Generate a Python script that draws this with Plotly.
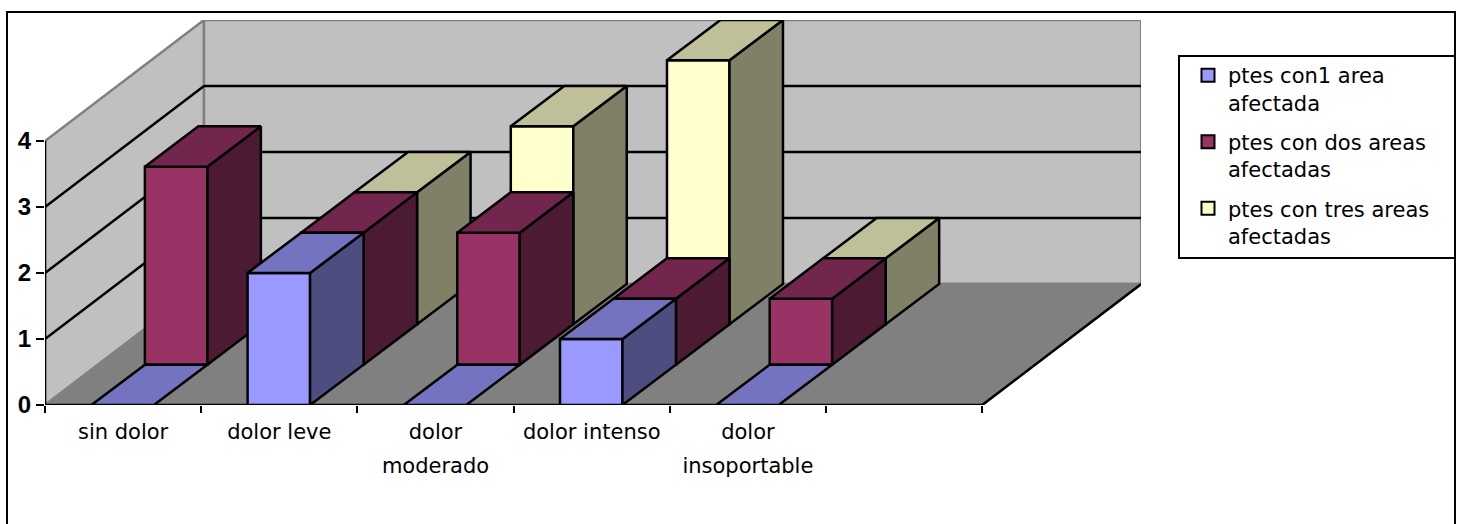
import plotly.graph_objects as go

categories = ["sin dolor", "dolor leve", "dolor<br>moderado", "dolor intenso", "dolor<br>insoportable", " "]
series_names = ["ptes con1 area<br>afectada", "ptes con dos areas<br>afectadas", "ptes con tres areas<br>afectadas"]
s1 = [0, 2, 0, 1, 0]
s2 = [3, 2, 2, 1, 1]
s3 = [None, 2, 3, 4, 1]
series_values = [s1, s2, s3]
value_ticks = [0, 1, 2, 3, 4]

front_cols = ["#9999FF", "#993366", "#FFFFCC"]
top_cols = ["#7373BF", "#73264D", "#BFBF99"]
side_cols = ["#4D4D80", "#4D1A33", "#808066"]

W, H = 1464, 524
L, R, T, B = 45, 1141, 20, 405
CW, UH = 156.2, 66.0
DX, DY = 159 / CW, 121 / UH      # oblique depth offset in axis units
BAR_DX = 160.5 / CW
N = len(categories)
VMAX = value_ticks[-1]
BAR_L, BAR_W = 0.297, 0.4
LW = 2.5


def pr(c, v, d, dx=DX):
    return c + d * dx, v + d * DY


fig = go.Figure()


def poly(pts, fill, line="#000000", lw=LW, dx=DX):
    xs, ys = zip(*[pr(*p, dx=dx) for p in pts + [pts[0]]])
    fig.add_trace(go.Scatter(x=xs, y=ys, mode="lines", fill="toself", fillcolor=fill,
                             line=dict(color=line, width=lw, shape="linear"),
                             showlegend=False, hoverinfo="skip", cliponaxis=False))


def seg(a, b, col="#000000", lw=LW):
    xs, ys = zip(pr(*a), pr(*b))
    fig.add_trace(go.Scatter(x=xs, y=ys, mode="lines", line=dict(color=col, width=lw),
                             showlegend=False, hoverinfo="skip", cliponaxis=False))


WALL_GREY, EDGE = "#C0C0C0", "#808080"
poly([(0, 0, 0), (0, 0, 1), (0, VMAX, 1), (0, VMAX, 0)], WALL_GREY, EDGE)
poly([(0, 0, 1), (N, 0, 1), (N, VMAX, 1), (0, VMAX, 1)], WALL_GREY, EDGE)
poly([(0, 0, 0), (N, 0, 0), (N, 0, 1), (0, 0, 1)], "#808080", EDGE)
seg((N, 0, 0), (N, 0, 1))
for v in value_ticks[1:-1]:
    seg((0, v, 0), (0, v, 1))
    seg((0, v, 1), (N, v, 1))
seg((0, 0, 0), (0, VMAX, 0))
seg((0, 0, 0), (N, 0, 0))

for r in [2, 1, 0]:
    d0, d1 = r / 3, (r + 1) / 3
    for c, v in enumerate(series_values[r]):
        if v is None:
            continue
        a, b = c + BAR_L, c + BAR_L + BAR_W
        if v > 0:
            poly([(a, 0, d0), (b, 0, d0), (b, v, d0), (a, v, d0)], front_cols[r], dx=BAR_DX)
            poly([(b, 0, d0), (b, 0, d1), (b, v, d1), (b, v, d0)], side_cols[r], dx=BAR_DX)
        poly([(a, v, d0), (b, v, d0), (b, v, d1), (a, v, d1)], top_cols[r], dx=BAR_DX)

for name, col in zip(series_names, front_cols):
    fig.add_trace(go.Scatter(x=[None], y=[None], mode="markers", name=name, legendgroup=name,
                             marker=dict(symbol="square", size=13, color=col,
                                         line=dict(color="#000000", width=2))))

FONT = "DejaVu Sans, Liberation Sans, sans-serif"
px = lambda x: (x - L) / (R - L)
py = lambda y: (B - y) / (B - T)
TXT = '<span style="font-size:21px">%s</span>'
tick_text = ["<br>".join(TXT % part for part in c.split("<br>")) for c in categories]
fig.update_layout(
    width=W, height=H, autosize=False,
    margin=dict(l=L, r=W - R, t=T, b=H - B, pad=0),
    paper_bgcolor="#FFFFFF", plot_bgcolor="rgba(0,0,0,0)",
    font=dict(family=FONT, size=21, color="#000000"),
    xaxis=dict(range=[0, (R - L) / CW], showgrid=False, zeroline=False, showline=False,
               tickmode="array", tickvals=[i + 0.5 for i in range(N)], ticktext=tick_text,
               tickfont=dict(family=FONT, size=26),
               ticks="", ticklabelstandoff=7, tickangle=0,
               minor=dict(tickmode="array", tickvals=list(range(N + 1)), ticks="outside",
                          ticklen=7, tickwidth=2, tickcolor="#000000", showgrid=False)),
    yaxis=dict(range=[0, (B - T) / UH], showgrid=False, zeroline=False, showline=False,
               tickmode="array", tickvals=value_ticks, ticks="outside", ticklen=8, tickwidth=2,
               tickcolor="#000000", tickfont=dict(family="Liberation Sans, Arial, sans-serif", size=24, weight="bold")),
    legend=dict(x=px(1181), y=py(55), xanchor="left", yanchor="top", bgcolor="rgba(0,0,0,0)",
                borderwidth=0, traceorder="grouped", tracegroupgap=9,
                font=dict(family=FONT, size=21), indentation=7, itemclick=False, valign="top"),
    shapes=[dict(type="rect", xref="paper", yref="paper", x0=px(7), x1=px(1455), y0=py(540), y1=py(12),
                 line=dict(color="#000000", width=2), fillcolor="rgba(0,0,0,0)", layer="below"),
            dict(type="rect", xref="paper", yref="paper", x0=px(1179), x1=px(1455), y0=py(258), y1=py(56),
                 line=dict(color="#000000", width=2), fillcolor="#FFFFFF", layer="above")],
)
fig.write_html("out.html", config=dict(displayModeBar=False),
               post_script="document.body.style.margin='0';document.documentElement.style.overflow='hidden';")
